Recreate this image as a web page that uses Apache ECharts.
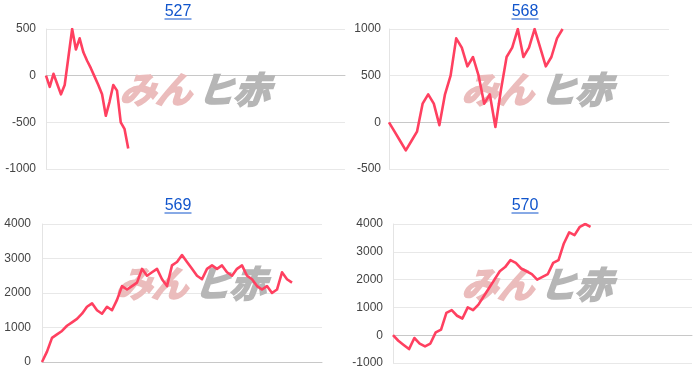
<!DOCTYPE html>
<html><head><meta charset="utf-8">
<script src="https://cdn.jsdelivr.net/npm/echarts@6/dist/echarts.min.js"></script>
<style>html,body{margin:0;padding:0;background:#fff}#c{width:700px;height:386px}</style>
</head><body><div id="c"></div>
<script>
// ---- data ----
const titles = ['527', '568', '569', '570'];
const categoryCounts = [81, 51, 57, 57];
const values527 = [0, -120, 20, -90, -200, -100, 200, 500, 280, 400, 250, 160, 80, -10, -100, -200, -430, -280, -100, -160, -500, -570, -780];
const values568 = [0, -100, -200, -300, -200, -100, 200, 300, 200, -30, 300, 500, 900, 800, 600, 700, 500, 200, 300, -50, 350, 700, 800, 1000, 700, 800, 1000, 800, 600, 700, 900, 1000];
const values569 = [0, 300, 700, 800, 900, 1050, 1150, 1250, 1400, 1600, 1700, 1500, 1400, 1600, 1500, 1800, 2200, 2100, 2200, 2300, 2700, 2500, 2600, 2700, 2400, 2200, 2800, 2900, 3100, 2900, 2700, 2500, 2400, 2700, 2800, 2700, 2800, 2600, 2500, 2700, 2800, 2500, 2400, 2200, 2100, 2200, 2000, 2100, 2600, 2400, 2300];
const values570 = [0, -200, -350, -500, -100, -300, -400, -300, 100, 200, 800, 900, 700, 600, 1000, 900, 1100, 1400, 1700, 2000, 2300, 2450, 2700, 2600, 2400, 2300, 2200, 2000, 2100, 2200, 2600, 2700, 3300, 3700, 3600, 3900, 4000, 3900];
const yMins = [-1000, -500, 0, -1000];
const yMaxs = [500, 1000, 4000, 4000];
const yIntervals = [500, 500, 1000, 1000];
const watermarkPink = 'みん';
const watermarkGray = 'ヒ赤';

// ---- layout ----
const seriesValues = [values527, values568, values569, values570];
const grids = [
  {left: 46, top: 29, width: 299, height: 140},
  {left: 389, top: 29, width: 280, height: 140},
  {left: 42, top: 224, width: 280, height: 138},
  {left: 393, top: 224, width: 299, height: 139}
];
const labelMargins = [10, 8, 11, 10];
const titlePos = [[178, 12], [525, 12], [178, 206], [525, 206]];
const wmPos = [[199, 89], [541, 89], [195, 283], [541, 284]];
const FONT = '"Liberation Sans", Arial, sans-serif';

const chart = echarts.init(document.getElementById('c'), null, {renderer: 'canvas'});
const xAxis = [], yAxis = [], series = [], graphic = [];
for (let i = 0; i < 4; i++) {
  const cats = [];
  for (let k = 1; k <= categoryCounts[i]; k++) cats.push(String(k));
  xAxis.push({
    type: 'category', gridIndex: i, data: cats, boundaryGap: false,
    axisLine: {show: true, onZero: true, lineStyle: {color: '#c8c8c8', width: 1}},
    axisTick: {show: false}, axisLabel: {show: false}, splitLine: {show: false}
  });
  yAxis.push({
    type: 'value', gridIndex: i, min: yMins[i], max: yMaxs[i], interval: yIntervals[i],
    axisLine: {show: true, lineStyle: {color: '#e4e4e4'}},
    axisTick: {show: false},
    axisLabel: {color: '#444', fontSize: 12, fontFamily: FONT, margin: labelMargins[i], formatter: v => String(v)},
    splitLine: {show: true, lineStyle: {color: '#e8e8e8', width: 1}}
  });
  series.push({
    type: 'line', xAxisIndex: i, yAxisIndex: i, data: seriesValues[i],
    showSymbol: false, symbol: 'none', smooth: false, z: 5,
    lineStyle: {color: '#ff4060', width: 2.6, join: 'round'}, clip: true
  });
  const [tx, ty] = titlePos[i];
  graphic.push({
    type: 'text', x: tx, y: ty, z: 10,
    style: {text: titles[i], fill: '#1155cc', font: '16px ' + FONT, textAlign: 'center', textVerticalAlign: 'middle'}
  });
  graphic.push({
    type: 'line', z: 10,
    shape: {x1: tx - 13.5, y1: ty + 7, x2: tx + 13.5, y2: ty + 7},
    style: {stroke: '#1155cc', lineWidth: 1}
  });
  const [wx, wy] = wmPos[i];
  graphic.push({
    type: 'text', x: wx - 3, y: wy, z: 1, silent: true, skewX: -0.35,
    style: {text: watermarkPink, fill: '#ebbcbc', stroke: '#ebbcbc', lineWidth: 2,
      font: 'bold 36px "Noto Sans CJK JP", sans-serif', textAlign: 'right', textVerticalAlign: 'middle'}
  });
  graphic.push({
    type: 'text', x: wx + 3, y: wy, z: 1, silent: true, skewX: -0.35,
    style: {text: watermarkGray, fill: '#b6b6b6', stroke: '#b6b6b6', lineWidth: 2,
      font: 'bold 36px "Noto Sans CJK JP", sans-serif', textAlign: 'left', textVerticalAlign: 'middle'}
  });
}
chart.setOption({
  animation: false,
  backgroundColor: '#fff',
  grid: grids.map(g => Object.assign({containLabel: false}, g)),
  xAxis, yAxis, series, graphic
});
</script>
</body></html>
